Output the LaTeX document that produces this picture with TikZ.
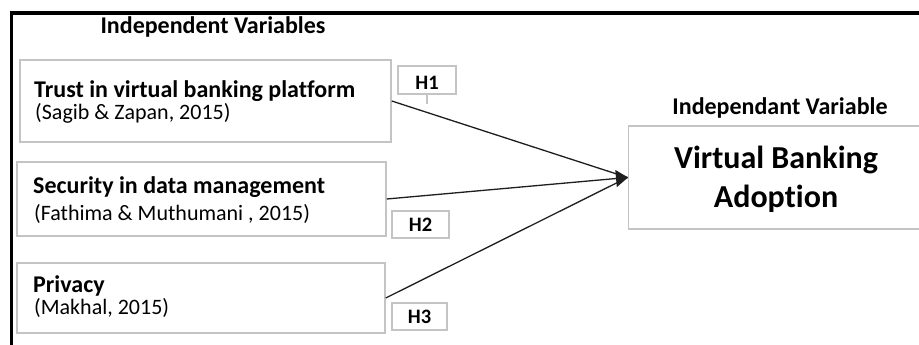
\documentclass[tikz,border=0pt]{standalone}
\usepackage{fontspec}
\setmainfont[Ligatures=NoCommon]{Carlito}
\usetikzlibrary{arrows.meta}
\definecolor{boxgrey}{HTML}{C4C4C4}
\definecolor{linegrey}{HTML}{1E1E1E}
\tikzset{
  vbox/.style={draw=boxgrey, line width=1.5pt, inner sep=0pt, rectangle},
  hbox/.style={draw=boxgrey, line width=1.3pt, inner sep=0pt, rectangle},
  htxt/.style={inner sep=0pt, anchor=base, font=\fontsize{20.5}{22}\selectfont\bfseries},
  lbl/.style={inner sep=0pt, anchor=base west},
  bigtxt/.style={font=\fontsize{24}{26}\selectfont\bfseries},
  citetxt/.style={font=\fontsize{22}{24}\selectfont},
  conn/.style={draw=linegrey, line width=1.3pt},
}
\begin{document}
\begin{tikzpicture}[x=1pt,y=-1pt]
\useasboundingbox (0,0) rectangle (919,345);
\clip (0,0) rectangle (919,345);
\fill[white] (0,0) rectangle (919,345);
% frame
\draw[line width=3.5pt] (11.5,360) |- (930,13);
% titles
\node[inner sep=0pt, anchor=base, bigtxt] (ttl) at (213,34) {Independent Variables};
\node[inner sep=0pt, anchor=base, bigtxt] (ttr) at (780,114) {Independant Variable};
% boxes
\node[vbox, minimum width=371pt, minimum height=82pt] (b1) at (205.5,101) {};
\node[vbox, minimum width=369pt, minimum height=74pt] (b2) at (201.5,199) {};
\node[vbox, minimum width=368pt, minimum height=70pt] (b3) at (201,298) {};
\node[vbox, minimum width=340pt, minimum height=103pt, anchor=west] (tgt) at (627.5,177.5) {};
% box texts
\node[lbl, bigtxt] (t1) at (34,97) {Trust in virtual banking platform};
\node[lbl, citetxt] (c1) at (35,120) {(Sagib \& Zapan, 2015)};
\node[lbl, bigtxt] (t2) at (33,193) {Security in data management};
\node[lbl, citetxt] (c2) at (34,220) {(Fathima \& Muthumani , 2015)};
\node[lbl, bigtxt] (t3) at (33,292) {Privacy};
\node[lbl, citetxt] (c3) at (34,314) {(Makhal, 2015)};
\node[inner sep=0pt, anchor=base, font=\fontsize{32}{34}\selectfont\bfseries] (v1) at (776,168) {Virtual Banking};
\node[inner sep=0pt, anchor=base, font=\fontsize{32}{34}\selectfont\bfseries] (v2) at (776,207) {Adoption};
% hypothesis labels
\node[hbox, minimum width=58pt, minimum height=28pt] (h1) at (427,80) {};
\node[htxt] (h1t) at (427,89) {H1};
\node[hbox, minimum width=57pt, minimum height=27pt] (h2) at (420.5,224.5) {};
\node[htxt] (h2t) at (420.5,231) {H2};
\node[hbox, minimum width=55pt, minimum height=27pt] (h3) at (419.5,316.5) {};
\node[htxt] (h3t) at (419.5,323) {H3};
\coordinate (h1tick) at (h1.south |- 0,104);
\draw[draw=boxgrey, line width=1.2pt] (h1.south) -- (h1tick);
% connectors
\draw[conn] (b1.east) -- (tgt.west);
\draw[conn] (b3.east) -- (tgt.west);
\draw[conn, -{Triangle[length=12pt,width=17pt]}, shorten >=-0.5pt] (b2.east) -- (tgt.west);
\end{tikzpicture}
\end{document}
